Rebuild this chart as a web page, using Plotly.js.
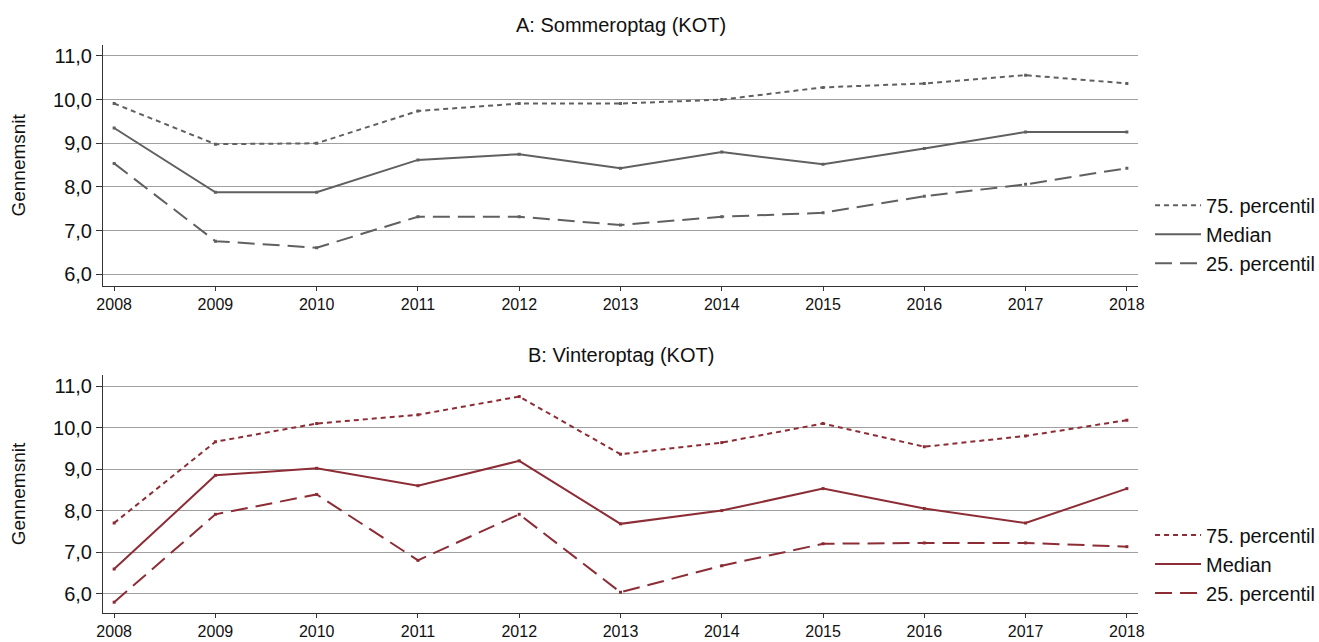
<!DOCTYPE html>
<html>
<head>
<meta charset="utf-8">
<script src="https://cdn.plot.ly/plotly-3.0.1.min.js"></script>
<style>html,body{margin:0;padding:0;background:#fff;}#chart{width:1319px;height:642px;}</style>
</head>
<body>
<div id="chart"></div>
<script>
const years = [2008, 2009, 2010, 2011, 2012, 2013, 2014, 2015, 2016, 2017, 2018];
const seriesNames = ["75. percentil", "Median", "25. percentil"];
const panelTitles = ["A: Sommeroptag (KOT)", "B: Vinteroptag (KOT)"];
const yTickVals = [6, 7, 8, 9, 10, 11];

// A: Sommeroptag
const sommerP75 = [9.91, 8.98, 9.00, 9.74, 9.91, 9.91, 10.00, 10.28, 10.37, 10.56, 10.37];
const sommerMedian = [9.35, 7.88, 7.88, 8.62, 8.75, 8.43, 8.80, 8.52, 8.88, 9.26, 9.26];
const sommerP25 = [8.54, 6.76, 6.61, 7.32, 7.32, 7.13, 7.32, 7.41, 7.79, 8.06, 8.43];

// B: Vinteroptag
const vinterP75 = [7.70, 9.66, 10.10, 10.31, 10.75, 9.36, 9.64, 10.10, 9.54, 9.80, 10.18];
const vinterMedian = [6.59, 8.85, 9.02, 8.60, 9.20, 7.68, 8.00, 8.53, 8.05, 7.70, 8.53];
const vinterP25 = [5.79, 7.91, 8.39, 6.80, 7.91, 6.03, 6.67, 7.20, 7.22, 7.22, 7.13];

const grey = "#606060";
const red = "#8c2d36";
const dashes = ["5px,4px", "solid", "17px,8px"];

function mk(y, name, i, color, xa, ya, leg) {
  return [{
    x: years, y: y, name: name, type: "scatter", mode: "lines",
    xaxis: xa, yaxis: ya, legend: leg, legendgroup: leg + i,
    line: {color: color, width: 2, dash: dashes[i]}
  }, {
    x: years, y: y, name: name, type: "scatter", mode: "markers", showlegend: false,
    xaxis: xa, yaxis: ya, legend: leg, legendgroup: leg + i,
    marker: {color: color, size: 3, symbol: "square"}
  }];
}

const data = [].concat(
  mk(sommerP75, seriesNames[0], 0, grey, "x", "y", "legend"),
  mk(sommerMedian, seriesNames[1], 1, grey, "x", "y", "legend"),
  mk(sommerP25, seriesNames[2], 2, grey, "x", "y", "legend"),
  mk(vinterP75, seriesNames[0], 0, red, "x2", "y2", "legend2"),
  mk(vinterMedian, seriesNames[1], 1, red, "x2", "y2", "legend2"),
  mk(vinterP25, seriesNames[2], 2, red, "x2", "y2", "legend2")
);

const fontFam = "Liberation Sans, Arial, sans-serif";
const xaxisBase = {
  range: [2007.89, 2018.11], tickvals: years, ticktext: years.map(String),
  showgrid: false, zeroline: false, showline: true, linecolor: "#333", linewidth: 1,
  ticks: "outside", ticklen: 4, tickcolor: "#333",
  tickfont: {family: fontFam, size: 16, color: "#111"}
};
const yaxisBase = {
  tickvals: yTickVals, tickformat: ".1f",
  showgrid: true, gridcolor: "#a0a0a0", gridwidth: 1, zeroline: false,
  showline: true, linecolor: "#333", linewidth: 1,
  ticks: "outside", ticklen: 6, tickcolor: "#333",
  tickfont: {family: fontFam, size: 20, color: "#111"},
  title: {text: "Gennemsnit", font: {family: fontFam, size: 19, color: "#111"}, standoff: 22}
};
const legBase = {
  xref: "container", x: 0.8719, xanchor: "left", yanchor: "middle", bgcolor: "rgba(0,0,0,0)",
  font: {family: fontFam, size: 20, color: "#111"}, traceorder: "grouped",
  tracegroupgap: 0, itemwidth: 46
};

const layout = {
  width: 1319, height: 642,
  margin: {l: 103, r: 181, t: 45, b: 29},
  paper_bgcolor: "#fff", plot_bgcolor: "#fff",
  separators: ",.",
  showlegend: true,
  xaxis: Object.assign({}, xaxisBase, {domain: [0, 1], anchor: "y"}),
  yaxis: Object.assign({}, yaxisBase, {domain: [0.5762, 1], range: [5.74, 11.25], anchor: "x"}),
  xaxis2: Object.assign({}, xaxisBase, {domain: [0, 1], anchor: "y2"}),
  yaxis2: Object.assign({}, yaxisBase, {domain: [0, 0.419], range: [5.53, 11.27], anchor: "x2"}),
  legend: Object.assign({}, legBase, {y: 0.667}),
  legend2: Object.assign({}, legBase, {y: 0.0863}),
  annotations: [
    {text: panelTitles[0], xref: "paper", yref: "paper", x: 0.5, y: 1, yshift: 7, showarrow: false,
     xanchor: "center", yanchor: "bottom", font: {family: fontFam, size: 20, color: "#111"}},
    {text: panelTitles[1], xref: "paper", yref: "paper", x: 0.5, y: 0.419, yshift: 7, showarrow: false,
     xanchor: "center", yanchor: "bottom", font: {family: fontFam, size: 20, color: "#111"}}
  ]
};

Plotly.newPlot("chart", data, layout, {displayModeBar: false, staticPlot: true});
</script>
</body>
</html>
